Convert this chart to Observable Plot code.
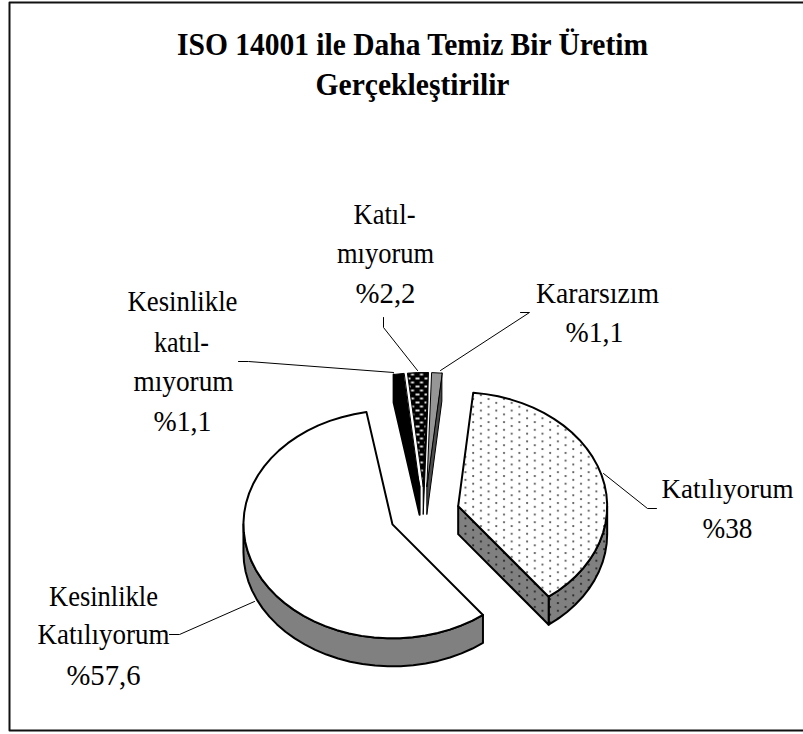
<!DOCTYPE html>
<html><head><meta charset="utf-8">
<script src="https://cdn.jsdelivr.net/npm/d3@7"></script>
<script src="https://cdn.jsdelivr.net/npm/@observablehq/plot@0.6"></script>
<style>html,body{margin:0;padding:0;background:#fff;overflow:hidden}svg{display:block}</style>
</head><body><div id="chart"></div>
<script>
// data
const sliceNames = ["Katılıyorum","Kesinlikle Katılıyorum","Kesinlikle katılmıyorum","Katılmıyorum","Kararsızım"];
const sliceValues = [38,57.6,1.1,2.2,1.1];
const titleLines = ["ISO 14001 ile Daha Temiz Bir Üretim","Gerçekleştirilir"];
const labelLines = ["Katıl-","mıyorum","%2,2","Kararsızım","%1,1","Kesinlikle","katıl-","mıyorum","%1,1","Katılıyorum","%38","Kesinlikle","Katılıyorum","%57,6"];

// layout and style
const titleLayout = [[412,54,471],[412,94,194]];
const labelLayout = [[384,223,62],[385,262,97],[385,302,60],[597,302,123],[594,341,58],
 [182,310,110],[181,351,55],[183,390,100],[182,430,58],[727,497,132],[727,537,50],
 [103,605,109],[103,643,132],[103,684,74]];
const topFills = ["url(#dotsTop)","#fff","#000","url(#holes)","#969696"];
const wallFills = ["url(#dotsWall)","#808080","#000","#000","#4b4b4b"];
const startAngle = 5.8;
const pie = {cx:424,cy:513,rx:149,ry:114,depth:28,ex:35,ey:27};
const leaders = [
 [[383,317],[383,327],[417,370]],[[520,312],[529,312],[440,370]],[[238,361],[248,361],[393,372]],
 [[603,473],[647,508],[656,508]],[[254,601],[179,634],[169,634]]];
const frame = [[9,2],[815,2],[815,730],[9,730]];

const rad = d => d*Math.PI/180;
let a = startAngle;
const slices = sliceValues.map((v,i)=>{const a0=a,a1=a+v*3.6;a=a1;const m=(a0+a1)/2;
 return {i,name:sliceNames[i],a0,a1,cx:pie.cx+pie.ex*Math.sin(rad(m)),cy:pie.cy-pie.ey*Math.cos(rad(m))};});
const pt=(s,ang,dz=0)=>({x:s.cx+pie.rx*Math.sin(rad(ang)),y:s.cy-pie.ry*Math.cos(rad(ang))+dz});
const arc=(s,a0,a1,dz=0)=>{const n=Math.max(1,Math.ceil((a1-a0)/5));return d3.range(n+1).map(k=>pt(s,a0+(a1-a0)*k/n,dz));};
const apex=(s,dz=0)=>({x:s.cx,y:s.cy+dz});
const poly=(pts,fill,sw=2)=>Plot.line(pts,{x:"x",y:"y",fill,stroke:"#000",strokeWidth:sw,curve:"linear-closed",strokeLinejoin:"round"});
const D=pie.depth;
const marks=[];
marks.push(Plot.line(frame,{x:d=>d[0],y:d=>d[1],curve:"linear-closed",stroke:"#111",strokeWidth:2}));
slices.forEach(s=>{
 const w=wallFills[s.i];
 const lo=Math.max(s.a0,90), hi=Math.min(s.a1,270);
 if(s.i===0){
  marks.push(poly([...arc(s,lo,hi),...arc(s,lo,hi,D).reverse()],w));
  marks.push(poly([apex(s),pt(s,s.a1),pt(s,s.a1,D),apex(s,D)],w));
 } else if(s.i===1){
  marks.push(poly([...arc(s,lo,hi),...arc(s,lo,hi,D).reverse()],w));
 } else if(s.i===2){
  marks.push(poly([pt(s,s.a0),pt(s,s.a0,D),apex(s,D),apex(s)],w));
 } else {
  marks.push(poly([pt(s,s.a1),pt(s,s.a1,D),apex(s,D),apex(s)],w,1));
 }
});
slices.forEach(s=>marks.push(poly([apex(s),...arc(s,s.a0,s.a1)],topFills[s.i],s.i>1?1:2)));
leaders.forEach(l=>marks.push(Plot.line(l,{x:d=>d[0],y:d=>d[1],stroke:"#000",strokeWidth:1,strokeLinejoin:"miter"})));
marks.push(Plot.text(titleLines,{x:(d,i)=>titleLayout[i][0],y:(d,i)=>titleLayout[i][1],text:d=>d,lineAnchor:"bottom",fontFamily:"Liberation Serif",fontWeight:"bold",fontSize:31,fill:"#000"}));
marks.push(Plot.text(labelLines,{x:(d,i)=>labelLayout[i][0],y:(d,i)=>labelLayout[i][1],text:d=>d,lineAnchor:"bottom",fontFamily:"Liberation Serif",fontSize:(d,i)=>i===9?27:30,fill:"#000"}));

const svg=Plot.plot({width:803,height:734,margin:0,
 x:{domain:[0,803],range:[0,803],axis:null},y:{domain:[0,734],range:[0,734],axis:null},
 style:{background:"#fff"},marks});
const defs=document.createElementNS("http://www.w3.org/2000/svg","defs");
defs.innerHTML=`
<pattern id="dotsTop" width="15.4" height="7.7" patternUnits="userSpaceOnUse">
<rect width="15.4" height="7.7" fill="#fff"/><circle cx="3" cy="2" r="1.1" fill="#555"/><circle cx="10.7" cy="5.85" r="1.1" fill="#555"/></pattern>
<pattern id="dotsWall" width="15.4" height="7.7" patternUnits="userSpaceOnUse">
<rect width="15.4" height="7.7" fill="#808080"/><circle cx="3" cy="2" r="1.1" fill="#222"/><circle cx="10.7" cy="5.85" r="1.1" fill="#222"/></pattern>
<pattern id="holes" width="9" height="8" patternUnits="userSpaceOnUse">
<rect width="9" height="8" fill="#000"/><rect x="1" y="1" width="4" height="2" fill="#ddd"/><rect x="5.5" y="5" width="3" height="2" fill="#ddd"/></pattern>`;
svg.insertBefore(defs,svg.firstChild);
const widths=[...titleLayout,...labelLayout].map(d=>d[2]);
svg.querySelectorAll("text").forEach((t,i)=>{t.setAttribute("textLength",widths[i]);t.setAttribute("lengthAdjust","spacingAndGlyphs");});
document.getElementById("chart").appendChild(svg);
</script></body></html>
